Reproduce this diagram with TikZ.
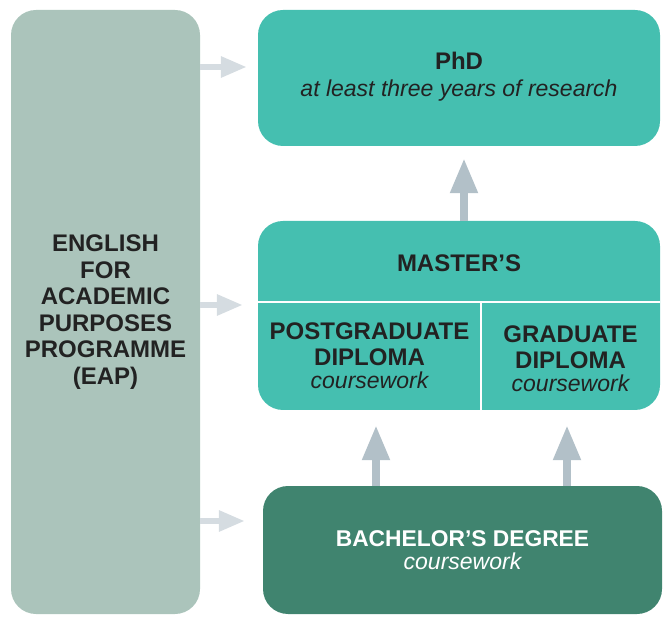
\documentclass[tikz,border=0pt]{standalone}
\usepackage{fontspec}
\setmainfont{Liberation Sans}
\usetikzlibrary{arrows.meta}
\definecolor{eapc}{HTML}{ABC4BB}
\definecolor{tealc}{HTML}{45BFB0}
\definecolor{bachc}{HTML}{40846F}
\definecolor{harr}{HTML}{D5DCE1}
\definecolor{varr}{HTML}{B2C0C8}
\definecolor{txt}{HTML}{222222}
\newcommand{\bsz}{\fontsize{24}{26.5}\selectfont\bfseries}
\newcommand{\bszs}{\fontsize{22.8}{26.5}\selectfont\bfseries}
\newcommand{\isz}{\fontsize{23}{26.5}\selectfont\itshape}
\begin{document}
\begin{tikzpicture}[x=1pt,y=-1pt,
  box/.style={rounded corners=25pt, inner sep=0pt, align=center, text=txt,
    font=\fontsize{24}{26.5}\selectfont},
  label/.style={inner sep=0pt, align=center, text=txt, font=\fontsize{24}{26.5}\selectfont},
  harrow/.style={draw=harr, line width=6pt, -{Triangle[length=26pt,width=20pt]}},
  varrow/.style={draw=varr, line width=8pt, -{Triangle[length=35pt,width=26pt]}},
  divider/.style={draw=white, line width=2.5pt},
]
\useasboundingbox (0,0) rectangle (664,617);

\node[box, fill=eapc, minimum width=189pt, minimum height=604pt] (eap) at (105.5,312)
  {\bsz ENGLISH\\\bsz FOR\\\bsz ACADEMIC\\\bsz PURPOSES\\\bsz PROGRAMME\\\bsz (EAP)};

\node[box, fill=tealc, minimum width=402pt, minimum height=136pt] (phd) at (459,78) {};
\node[label] (phdt) at (459,77) {\bsz PhD\\[0.5pt]\isz at least three years of research};

\node[box, fill=tealc, minimum width=402pt, minimum height=189pt] (masters) at (459,315.5) {};
\coordinate (dv) at (481,302);
\draw[divider] (masters.west |- dv) -- (masters.east |- dv);
\draw[divider] (dv) -- (dv |- masters.south);
\node[label] (mt) at (459,263) {\bsz MASTER’S};
\node[label] (pgd) at (369.5,355.5) {\bsz POSTGRADUATE\\\bsz DIPLOMA\\[-4pt]\isz coursework};
\node[label] (gd) at (570.5,358.5) {\bsz GRADUATE\\\bsz DIPLOMA\\[-4pt]\isz coursework};

\node[box, fill=bachc, minimum width=399pt, minimum height=128pt] (bach) at (462.5,550) {};
\node[label, text=white] (bt) at (462.5,550.5) {\bszs BACHELOR’S DEGREE\\[-3.5pt]\isz coursework};

% horizontal arrows
\coordinate (y1) at (0,67);
\coordinate (y2) at (0,305);
\coordinate (y3) at (0,521);
\draw[harrow] (eap.east |- y1) -- ([xshift=-11pt]phd.west |- y1);
\draw[harrow] (eap.east |- y2) -- ([xshift=-15pt]masters.west |- y2);
\draw[harrow] (eap.east |- y3) -- ([xshift=-18pt]bach.west |- y3);

% vertical arrows
\coordinate (x1) at (464,0);
\coordinate (x2) at (376,0);
\coordinate (x3) at (567,0);
\draw[varrow] (masters.north -| x1) -- ([yshift=-12pt]phd.south -| x1);
\draw[varrow] (bach.north -| x2) -- ([yshift=-15pt]masters.south -| x2);
\draw[varrow] (bach.north -| x3) -- ([yshift=-15pt]masters.south -| x3);
\end{tikzpicture}
\end{document}
